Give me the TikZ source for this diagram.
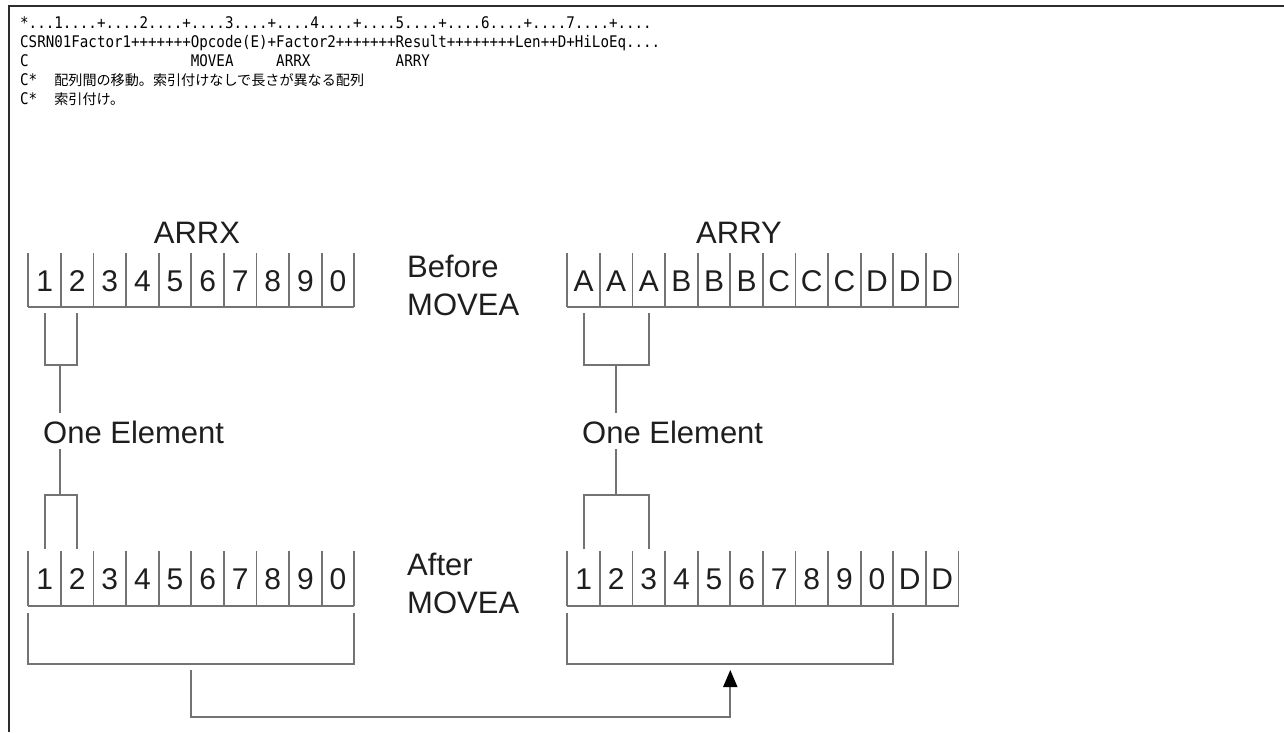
\documentclass[tikz,border=0pt]{standalone}
\usepackage{fontspec}
\setmainfont{Liberation Sans}
\newfontfamily\codefont[FakeStretch=0.886]{DejaVu Sans Mono}
\newfontfamily\jpfont{Noto Sans CJK JP}
\usetikzlibrary{arrows.meta}
\definecolor{lin}{RGB}{115,115,115}
\definecolor{frm}{RGB}{45,45,45}
\definecolor{txt}{RGB}{30,30,30}
\newcommand{\jptext}[1]{{\jpfont\fontsize{14.1}{14.1}\selectfont #1}}
\tikzset{
  codeline/.style={anchor=base west, inner sep=0pt, font=\codefont\fontsize{16}{16}\selectfont, text=black},
  lbl/.style={anchor=base, inner sep=0pt, font=\fontsize{31}{31}\selectfont, text=txt},
  sidelbl/.style={anchor=base west, inner sep=0pt, font=\fontsize{31}{31}\selectfont, text=txt},
  cell/.style={anchor=base, inner sep=0pt, font=\fontsize{30}{30}\selectfont, text=txt},
  wire/.style={draw=lin, line width=1.8pt},
  frameline/.style={draw=frm, line width=2pt},
}
\begin{document}
\begin{tikzpicture}[x=1pt,y=-1pt]
\useasboundingbox (0,0) rectangle (1284,732);
% frame
\draw[frameline] (1284,6) -- (9,6) -- (9,732);
% code lines
\node[codeline] (l1) at (20,28) {*...1....+....2....+....3....+....4....+....5....+....6....+....7....+....};
\node[codeline] (l2) at (20,47) {CSRN01Factor1+++++++Opcode(E)+Factor2+++++++Result++++++++Len++D+HiLoEq....};
\node[codeline] (l3) at (20,66) {C~~~~~~~~~~~~~~~~~~~MOVEA~~~~~ARRX~~~~~~~~~~ARRY};
\node[codeline] (l4) at (20,85) {C*~~\jptext{配列間の移動。索引付けなしで長さが異なる配列}};
\node[codeline] (l5) at (20,104) {C*~~\jptext{索引付け。}};
% labels
\node[lbl] (arrx) at (197,243) {ARRX};
\node[lbl] (arry) at (739,243) {ARRY};
\node[sidelbl] (bef1) at (407,277) {Before};
\node[sidelbl] (bef2) at (407,315) {MOVEA};
\node[sidelbl] (aft1) at (407,575) {After};
\node[sidelbl] (aft2) at (407,613) {MOVEA};
\node[sidelbl] (oeL) at (43,443) {One Element};
\node[sidelbl] (oeR) at (582,443) {One Element};
% arrays
\def\w{32.6}
% ARRX before
\foreach \d [count=\i] in {1,2,3,4,5,6,7,8,9,0}
  \node[cell] (xb\i) at ({28.3+(\i-0.5)*\w},291) {\d};
\foreach \i in {0,...,10}
  \draw[wire] ({28.3+\i*\w},253) -- ({28.3+\i*\w},307);
\draw[wire] (28.3,307) -- ({28.3+10*\w},307);
% ARRX after
\foreach \d [count=\i] in {1,2,3,4,5,6,7,8,9,0}
  \node[cell] (xa\i) at ({28.3+(\i-0.5)*\w},589) {\d};
\foreach \i in {0,...,10}
  \draw[wire] ({28.3+\i*\w},551) -- ({28.3+\i*\w},606);
\draw[wire] (28.3,606) -- ({28.3+10*\w},606);
% ARRY before
\foreach \d [count=\i] in {A,A,A,B,B,B,C,C,C,D,D,D}
  \node[cell] (yb\i) at ({567.3+(\i-0.5)*\w},291) {\d};
\foreach \i in {0,...,12}
  \draw[wire] ({567.3+\i*\w},253) -- ({567.3+\i*\w},307);
\draw[wire] (567.3,307) -- ({567.3+12*\w},307);
% ARRY after
\foreach \d [count=\i] in {1,2,3,4,5,6,7,8,9,0,D,D}
  \node[cell] (ya\i) at ({567.3+(\i-0.5)*\w},589) {\d};
\foreach \i in {0,...,12}
  \draw[wire] ({567.3+\i*\w},551) -- ({567.3+\i*\w},606);
\draw[wire] (567.3,606) -- ({567.3+12*\w},606);
% element brackets, left
\coordinate (lt1) at (xb1 |- 0,313);
\coordinate (lt2) at (xb2 |- 0,313);
\coordinate (ltm) at (60,365);
\draw[wire] (lt1) |- (ltm) -| (lt2);
\draw[wire] (ltm) -- (60,413);
\coordinate (lbm) at (60,495);
\draw[wire] (60,449) -- (lbm);
\coordinate (lb1) at (xa1 |- 0,549);
\coordinate (lb2) at (xa2 |- 0,549);
\draw[wire] (lb1) |- (lbm) -| (lb2);
% element brackets, right
\coordinate (rt1) at (yb1 |- 0,313);
\coordinate (rt3) at (yb3 |- 0,313);
\coordinate (rtm) at (616.2,365);
\draw[wire] (rt1) |- (rtm) -| (rt3);
\draw[wire] (rtm) -- (616.2,413);
\coordinate (rbm) at (616.2,495);
\draw[wire] (616.2,449) -- (rbm);
\coordinate (rb1) at (ya1 |- 0,549);
\coordinate (rb3) at (ya3 |- 0,549);
\draw[wire] (rb1) |- (rbm) -| (rb3);
% whole-array brackets
\draw[wire] (28.3,613) -- (28.3,664) -- (354.3,664) -- (354.3,613);
\draw[wire] (567.3,613) -- (567.3,664) -- (893.3,664) -- (893.3,613);
% move connector
\coordinate (src) at (191.3,670);
\coordinate (dst) at (730.3,670);
\draw[wire, -{Triangle[width=14pt,length=17pt,color=black]}] (src) -- (191.3,717) -| (dst);
\end{tikzpicture}
\end{document}
